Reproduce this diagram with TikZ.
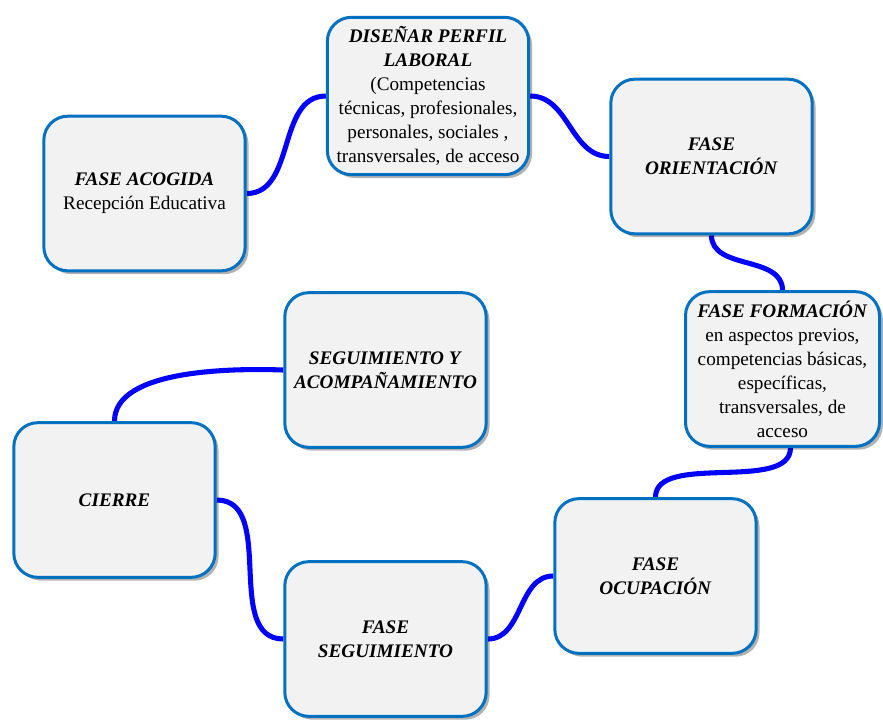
\documentclass[tikz,border=0pt]{standalone}
\usepackage{fontspec}
\setmainfont{Liberation Serif}
\usepackage{xcolor}
\usepackage{tikz}
\usetikzlibrary{backgrounds,shadows}
\definecolor{boxblue}{RGB}{0,112,192}
\definecolor{boxfill}{RGB}{242,242,242}
\definecolor{linkblue}{RGB}{0,0,255}
\newcommand{\head}[1]{\textbf{\textit{#1}}}

\begin{document}
\begin{tikzpicture}[x=0.75pt,y=-0.75pt]
  % `fase' is used for every rounded box of the cycle.
  % `link' is used for the curved blue connectors.
  \tikzstyle{fase} = [draw=boxblue,fill=boxfill,line width=2.25pt,rounded corners=18pt,
    minimum width=151pt,minimum height=116pt,align=center,inner sep=2pt,
    font=\fontsize{14.4}{18}\selectfont,
    drop shadow={shadow xshift=2.5pt,shadow yshift=-2.5pt,opacity=0.3,fill=black}]
  \tikzstyle{link} = [draw=linkblue,line width=3.8pt]
  \useasboundingbox (0,0) rectangle (883,719);
  %
  % Boxes, top row first.
  \node[fase] (acogida) at (144.5,193.5) {\head{FASE ACOGIDA}\\Recepción Educativa};
  \node[fase,minimum height=118pt] (disenar) at (428,96)
    {\head{DISEÑAR PERFIL}\\\head{LABORAL}\\(Competencias\\técnicas, profesionales,\\personales, sociales ,\\transversales, de acceso};
  \node[fase] (orientacion) at (711.5,156.5) {\head{FASE}\\\head{ORIENTACIÓN}};
  % Middle row.
  \node[fase,minimum width=145.5pt] (formacion) at (782.5,369)
    {\head{FASE FORMACIÓN}\\en aspectos previos,\\competencias básicas,\\específicas,\\transversales, de\\acceso};
  \node[fase] (acompana) at (385.5,370) {\head{SEGUIMIENTO Y}\\\head{ACOMPAÑAMIENTO}};
  \node[fase] (cierre) at (114.5,500) {\head{CIERRE}};
  % Bottom row.
  \node[fase] (ocupacion) at (655.5,576) {\head{FASE}\\\head{OCUPACIÓN}};
  \node[fase] (seguimiento) at (385.5,639) {\head{FASE}\\\head{SEGUIMIENTO}};
  %
  \begin{pgfonlayer}{background}
    % Draw connectors.
    \draw[link] (acogida.east) to[out=0,in=180] (disenar.west);
    \draw[link] (disenar.east) to[out=0,in=180] (orientacion.west);
    \draw[link] (orientacion.south) to[out=-90,in=90] (formacion.north);
    \draw[link] ([xshift=6pt]formacion.south) to[out=-90,in=90,looseness=0.8] (ocupacion.north);
    \draw[link] (ocupacion.west) to[out=180,in=0] (seguimiento.east);
    \draw[link] (seguimiento.west) to[out=180,in=0] (cierre.east);
    \draw[link] (cierre.north) to[out=90,in=178,looseness=0.75] (acompana.west);
  \end{pgfonlayer}
  %
\end{tikzpicture}
\end{document}
